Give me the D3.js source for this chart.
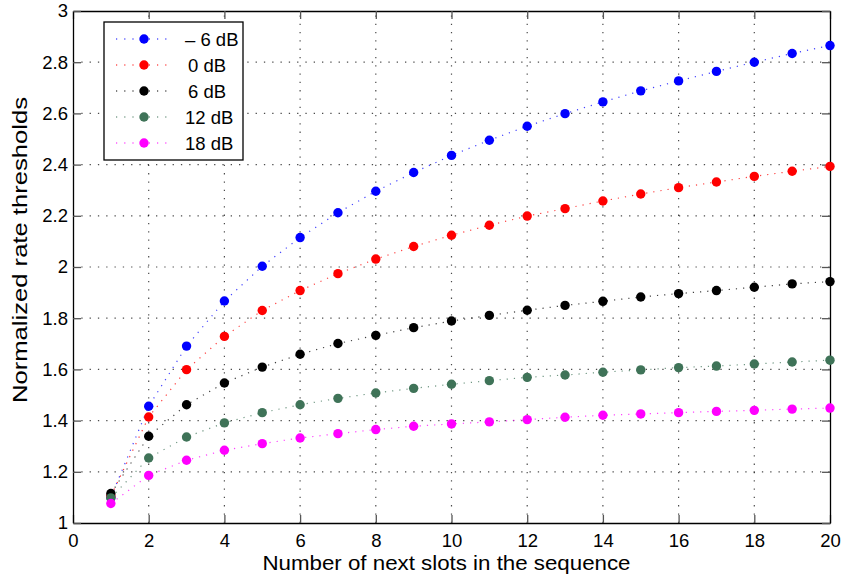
<!DOCTYPE html>
<html><head><meta charset="utf-8">
<script src="https://cdn.jsdelivr.net/npm/d3@7"></script>
<style>body{margin:0;background:#fff}text{font-family:"Liberation Sans",Arial,sans-serif;fill:#000}</style>
</head><body><svg id="c" width="843" height="580"></svg>
<script>
const slots = d3.range(1, 21);
const seriesNames = ["\u2013 6 dB", "0 dB", "6 dB", "12 dB", "18 dB"];
const seriesColors = ["#0000ff", "#ff0000", "#000000", "#3f7358", "#ff00ff"];
const valsM6 = [1.10,1.456,1.691,1.867,2.003,2.115,2.212,2.296,2.369,2.436,2.495,2.550,2.599,2.645,2.688,2.727,2.764,2.800,2.834,2.865];
const vals0  = [1.105,1.414,1.599,1.729,1.830,1.908,1.974,2.031,2.080,2.124,2.163,2.199,2.228,2.258,2.285,2.310,2.332,2.354,2.374,2.393];
const vals6  = [1.115,1.339,1.462,1.547,1.609,1.659,1.701,1.733,1.763,1.789,1.811,1.831,1.850,1.866,1.883,1.896,1.908,1.921,1.934,1.943];
const vals12 = [1.098,1.254,1.336,1.391,1.431,1.462,1.487,1.508,1.526,1.542,1.556,1.569,1.578,1.589,1.598,1.607,1.613,1.621,1.629,1.636];
const vals18 = [1.076,1.186,1.245,1.284,1.310,1.332,1.349,1.365,1.378,1.387,1.395,1.404,1.413,1.421,1.426,1.431,1.436,1.440,1.445,1.449];
const allVals = [valsM6, vals0, vals6, vals12, vals18];
const xTicks = [0,2,4,6,8,10,12,14,16,18,20];
const yTicks = [1,1.2,1.4,1.6,1.8,2,2.2,2.4,2.6,2.8,3];
const xLabel = "Number of next slots in the sequence";
const yLabel = "Normalized rate thresholds";

// layout (not data)
const legendTextX = [185, 188, 188, 185, 185];

const svg = d3.select("#c");
const L = 73, R = 830, T = 11, B = 523;
const x = d3.scaleLinear().domain([0, 20]).range([L, R]);
const y = d3.scaleLinear().domain([1, 3]).range([B, T]);

// grid
const g = svg.append("g");
g.selectAll(".gx").data(xTicks.slice(1, -1)).enter().append("line")
  .attr("x1", d => x(d)).attr("x2", d => x(d)).attr("y1", B).attr("y2", T)
  .attr("stroke", "#000").attr("stroke-width", 1.2).attr("stroke-dasharray", "1.3,7").attr("opacity", 0.7);
g.selectAll(".gy").data(yTicks.slice(1, -1)).enter().append("line")
  .attr("y1", d => y(d)).attr("y2", d => y(d)).attr("x1", L).attr("x2", R)
  .attr("stroke", "#000").attr("stroke-width", 1.2).attr("stroke-dasharray", "1.3,7").attr("opacity", 0.7);

// axes with inward ticks
const fmtY = d => (d === 1 || d === 2 || d === 3) ? String(d) : d3.format(".1f")(d);
const xb = svg.append("g").attr("transform", `translate(0,${B})`)
  .call(d3.axisBottom(x).tickValues(xTicks).tickSizeInner(-8).tickSizeOuter(0).tickPadding(11).tickFormat(d3.format("d")));
const xt = svg.append("g").attr("transform", `translate(0,${T})`)
  .call(d3.axisTop(x).tickValues(xTicks).tickSizeInner(-8).tickSizeOuter(0).tickFormat(""));
const yl = svg.append("g").attr("transform", `translate(${L},0)`)
  .call(d3.axisLeft(y).tickValues(yTicks).tickSizeInner(-8).tickSizeOuter(0).tickPadding(5).tickFormat(fmtY));
const yr = svg.append("g").attr("transform", `translate(${R},0)`)
  .call(d3.axisRight(y).tickValues(yTicks).tickSizeInner(-8).tickSizeOuter(0).tickFormat(""));
[xb, xt, yl, yr].forEach(a => {
  a.select(".domain").attr("stroke", "#000").attr("stroke-width", 1.3);
  a.selectAll(".tick line").attr("stroke", "#555").attr("stroke-width", 1.3);
  a.selectAll("text").attr("font-size", 18.5).attr("font-family", "Liberation Sans, Arial, sans-serif").attr("fill", "#000");
});

// series
const line = d3.line().x((d, i) => x(slots[i])).y(d => y(d));
allVals.forEach((vals, k) => {
  svg.append("path").datum(vals).attr("d", line).attr("fill", "none")
    .attr("stroke", seriesColors[k]).attr("stroke-width", 1.2).attr("stroke-dasharray", "1.2,6").attr("opacity", 0.75);
});
allVals.forEach((vals, k) => {
  svg.selectAll(".m" + k).data(vals).enter().append("circle")
    .attr("cx", (d, i) => x(slots[i])).attr("cy", d => y(d)).attr("r", 4.7)
    .attr("fill", seriesColors[k]);
});

// legend
const lg = svg.append("g");
lg.append("rect").attr("x", 104).attr("y", 22).attr("width", 139).attr("height", 138)
  .attr("fill", "#fff").attr("stroke", "#000").attr("stroke-width", 1.3);
seriesNames.forEach((n, k) => {
  const yy = 39 + k * 26;
  lg.append("line").attr("x1", 116).attr("x2", 168).attr("y1", yy).attr("y2", yy)
    .attr("stroke", seriesColors[k]).attr("stroke-width", 1.2).attr("stroke-dasharray", "1.2,7");
  lg.append("circle").attr("cx", 144).attr("cy", yy).attr("r", 4.7).attr("fill", seriesColors[k]);
  lg.append("text").attr("x", legendTextX[k]).attr("y", yy + 7)
    .attr("font-size", 18.5).text(n);
});

// labels (reference text is horizontally stretched; match its length)
svg.append("text").attr("x", (L + R) / 2 - 5).attr("y", 570).attr("text-anchor", "middle")
  .attr("font-size", 19.5).attr("textLength", 368).attr("lengthAdjust", "spacingAndGlyphs").text(xLabel);
svg.append("text").attr("transform", `translate(27,250) rotate(-90)`).attr("text-anchor", "middle")
  .attr("font-size", 19.5).attr("textLength", 306).attr("lengthAdjust", "spacingAndGlyphs").text(yLabel);
</script></body></html>
